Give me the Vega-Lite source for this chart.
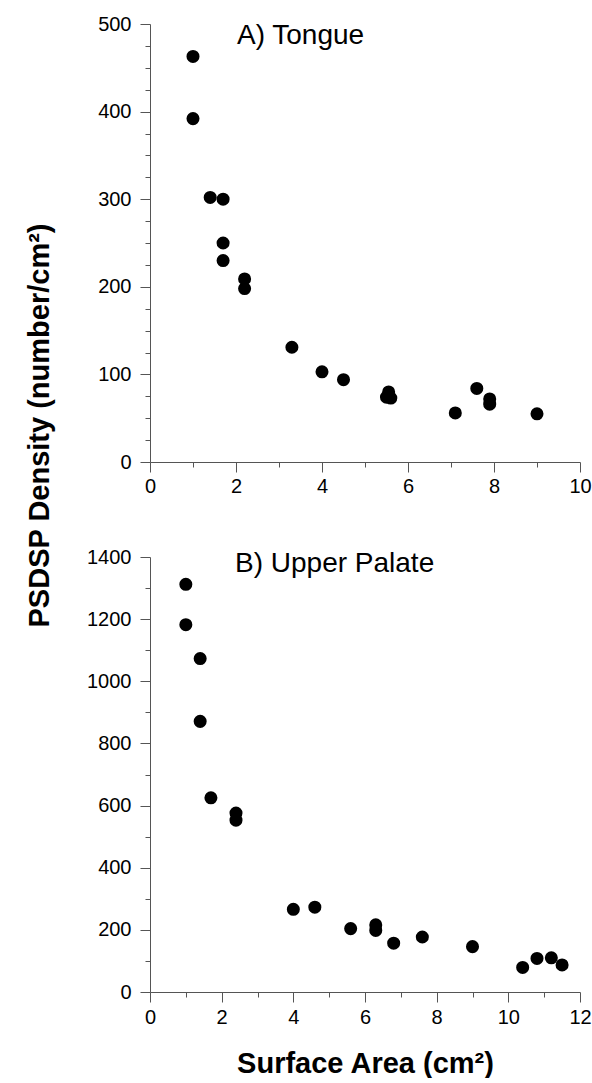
{
  "$schema": "https://vega.github.io/schema/vega-lite/v6.json",
  "background": "white",
  "padding": {"left": 25, "top": 14, "right": 0, "bottom": 0},
  "bounds": "flush",
  "spacing": 95,
  "config": {
    "view": {"stroke": null},
    "font": "Liberation Sans",
    "axis": {
      "grid": false,
      "domainColor": "#555555",
      "domainWidth": 1,
      "tickColor": "#555555",
      "tickWidth": 1,
      "tickSize": 10,
      "labelColor": "#000000",
      "labelFont": "Liberation Sans",
      "labelFontSize": 20,
      "labelOverlap": false,
      "labelFlush": false,
      "titleColor": "#000000",
      "titleFont": "Liberation Sans",
      "titleFontWeight": "bold",
      "titleFontSize": 29
    }
  },
  "datasets": {
    "tongue": [
      {"area": 1.0, "density": 463},
      {"area": 1.0, "density": 392},
      {"area": 1.4, "density": 302},
      {"area": 1.7, "density": 300},
      {"area": 1.7, "density": 250},
      {"area": 1.7, "density": 230},
      {"area": 2.2, "density": 209},
      {"area": 2.2, "density": 198},
      {"area": 3.3, "density": 131},
      {"area": 4.0, "density": 103},
      {"area": 4.5, "density": 94},
      {"area": 5.55, "density": 80},
      {"area": 5.5, "density": 74},
      {"area": 5.6, "density": 73},
      {"area": 7.1, "density": 56},
      {"area": 7.6, "density": 84},
      {"area": 7.9, "density": 72},
      {"area": 7.9, "density": 66},
      {"area": 9.0, "density": 55}
    ],
    "palate": [
      {"area": 1.0, "density": 1312},
      {"area": 1.0, "density": 1182},
      {"area": 1.4, "density": 1073},
      {"area": 1.4, "density": 871},
      {"area": 1.7, "density": 625},
      {"area": 2.4, "density": 576},
      {"area": 2.4, "density": 553},
      {"area": 4.0, "density": 266},
      {"area": 4.6, "density": 273},
      {"area": 5.6, "density": 204},
      {"area": 6.3, "density": 216},
      {"area": 6.3, "density": 198},
      {"area": 6.8, "density": 157},
      {"area": 7.6, "density": 177},
      {"area": 9.0, "density": 146},
      {"area": 10.4, "density": 79},
      {"area": 10.8, "density": 108},
      {"area": 11.2, "density": 110},
      {"area": 11.5, "density": 87}
    ]
  },
  "vconcat": [
    {
      "width": 430,
      "height": 438,
      "title": {"text": "A) Tongue", "anchor": "start", "frame": "group", "orient": "top", "offset": -58, "dx": 87, "baseline": "alphabetic", "fontSize": 28, "fontWeight": "normal", "font": "Liberation Sans", "color": "#000000"},
      "data": {"name": "tongue"},
      "mark": {"type": "circle", "size": 170, "color": "#000000", "opacity": 1},
      "encoding": {
        "x": {
          "field": "area", "type": "quantitative",
          "scale": {"domain": [0, 10], "nice": false, "zero": false},
          "axis": {
            "title": null,
            "values": [0, 1, 2, 3, 4, 5, 6, 7, 8, 9, 10],
            "format": "d",
            "labelPadding": 4,
            "labelExpr": "datum.value % 2 === 0 ? datum.label : ''",
            "tickDash": {"condition": {"test": "datum.value % 2 !== 0", "value": [5, 20]}, "value": [10, 0]}
          }
        },
        "y": {
          "field": "density", "type": "quantitative",
          "scale": {"domain": [0, 500], "nice": false, "zero": false},
          "axis": {
            "title": "PSDSP Density (number/cm²)",
            "titleX": -102,
            "titleY": 401,
            "titleAngle": -90,
            "titleAlign": "center",
            "titleBaseline": "alphabetic",
            "values": [0, 25, 50, 75, 100, 125, 150, 175, 200, 225, 250, 275, 300, 325, 350, 375, 400, 425, 450, 475, 500],
            "format": "d",
            "labelPadding": 9,
            "labelExpr": "datum.value % 100 === 0 ? datum.label : ''",
            "tickDash": {"condition": {"test": "datum.value % 100 !== 0", "value": [5, 20]}, "value": [10, 0]}
          }
        }
      }
    },
    {
      "width": 430,
      "height": 435,
      "title": {"text": "B) Upper Palate", "anchor": "start", "frame": "group", "orient": "top", "offset": -53, "dx": 85, "baseline": "alphabetic", "fontSize": 28, "fontWeight": "normal", "font": "Liberation Sans", "color": "#000000"},
      "data": {"name": "palate"},
      "mark": {"type": "circle", "size": 170, "color": "#000000", "opacity": 1},
      "encoding": {
        "x": {
          "field": "area", "type": "quantitative",
          "scale": {"domain": [0, 12], "nice": false, "zero": false},
          "axis": {
            "title": "Surface Area (cm²)",
            "titleY": 80,
            "titleBaseline": "alphabetic",
            "values": [0, 1, 2, 3, 4, 5, 6, 7, 8, 9, 10, 11, 12],
            "format": "d",
            "labelPadding": 5,
            "labelExpr": "datum.value % 2 === 0 ? datum.label : ''",
            "tickDash": {"condition": {"test": "datum.value % 2 !== 0", "value": [5, 20]}, "value": [10, 0]}
          }
        },
        "y": {
          "field": "density", "type": "quantitative",
          "scale": {"domain": [0, 1400], "nice": false, "zero": false},
          "axis": {
            "title": null,
            "values": [0, 100, 200, 300, 400, 500, 600, 700, 800, 900, 1000, 1100, 1200, 1300, 1400],
            "format": "d",
            "labelPadding": 9,
            "labelExpr": "datum.value % 200 === 0 ? datum.label : ''",
            "tickDash": {"condition": {"test": "datum.value % 200 !== 0", "value": [5, 20]}, "value": [10, 0]}
          }
        }
      }
    }
  ]
}
